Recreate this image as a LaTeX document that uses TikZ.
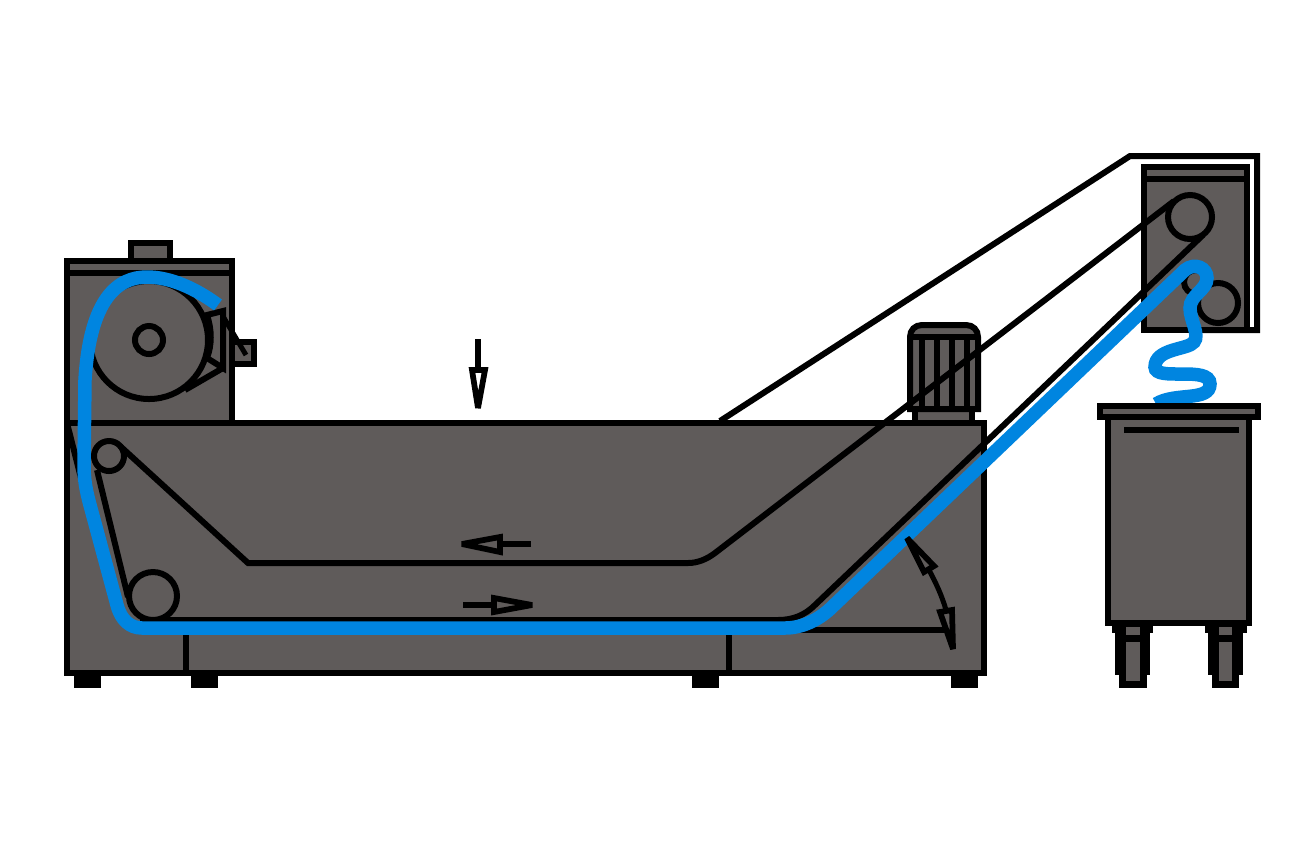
\documentclass[tikz,border=0pt]{standalone}
\definecolor{housing}{HTML}{5F5B5A}
\definecolor{coolant}{HTML}{0085E0}
\tikzset{
  part/.style={draw=black,fill=housing,line width=0.12cm},
  belt/.style={draw=black,line width=0.12cm},
  swarf/.style={draw=coolant,line width=0.27cm},
  tip/.style={draw=black,line width=0.115cm,miter limit=3},
  shaft/.style={draw=black,line width=0.12cm}
}
\begin{document}
\begin{tikzpicture}[x=0.02cm,y=-0.02cm]
    \useasboundingbox (0,0) rectangle (1310,860);

    % feet of the tank
    \fill (74,670) rectangle (101,688);
    \fill (191,670) rectangle (218,688);
    \fill (692,670) rectangle (719,688);
    \fill (951,670) rectangle (978,688);

    % drive box on the left
    \path[part] (131,243) rectangle (170,261);
    \path[part] (67,261) rectangle (232,423);
    \draw[belt] (67,273) -- (232,273);
    \path[part] (232,342) rectangle (254,364);
    \draw[belt,line width=0.1cm] (224,318) -- (246,355);
    \path[part] (207,315) -- (223,311) -- (223,368) -- (207,358) .. controls (212,345) and (212,330) .. cycle;
    \draw[belt] (223,368) -- (185,390);
    \path[part] (149,340) circle (59);
    \draw[belt] (149,340) circle (14);

    % tank
    \path[part] (67,423) rectangle (984,673);
    \draw[belt] (67,423) -- (82,482);
    \draw[belt] (186,630) -- (186,673);
    \draw[belt] (729,630) -- (729,673);

    % motor
    \path[part] (915,405) rectangle (972,423);
    \path[part] (910,409) -- (910,337) .. controls (910,330) and (915,325) .. (922,325) -- (966,325) .. controls (973,325) and (978,330) .. (978,337) -- (978,409) -- cycle;
    \draw[belt] (910,337) -- (978,337);
    \foreach \x in {922,937,952,967}
      \draw[belt] (\x,337) -- (\x,409);

    % head box on the right
    \draw[belt] (720,421) -- (1130,156) -- (1257,156) -- (1257,330) -- (1200,330);
    \path[part] (1144,167) rectangle (1247,330);
    \draw[belt] (1144,179) -- (1247,179);
    \draw[belt] (1196,282) circle (12);
    \draw[belt] (1218,303) circle (20);

    % conveyor belt with its rollers
    \coordinate (rollerA) at (109,456);
    \coordinate (rollerB) at (153,596);
    \coordinate (rollerC) at (1190,217);
    \draw[belt] (rollerA) circle (15);
    \draw[belt] (rollerB) circle (24);
    \draw[belt] (rollerC) circle (22);
    \draw[belt] (120,446) -- (248,563) -- (688,563) .. controls (698,563) and (707,559) .. (715,553) -- (1174,201);
    \draw[belt] (1203,235) -- (815,605) .. controls (805,615) and (793,620) .. (778,620) -- (140,620);
    \draw[belt] (97,470) -- (128,597);

    % angle of the slope, base line under the swarf
    \draw[belt] (800,630) -- (950,630);

    % swarf leaving the machine
    \draw[swarf] (218,305) .. controls (195,288) and (170,277) .. (147,277) .. controls (118,277) and (90,298) .. (85,380) -- (84,465) .. controls (84,480) and (86,490) .. (90,505) -- (117,605) .. controls (121,620) and (130,628) .. (142,628) -- (785,628) .. controls (802,628) and (818,620) .. (830,609) -- (1185,270) .. controls (1195,262) and (1207,268) .. (1207,278) .. controls (1207,290) and (1190,295) .. (1190,308) .. controls (1190,320) and (1200,335) .. (1194,342) .. controls (1188,350) and (1155,348) .. (1155,367) .. controls (1155,382) and (1210,365) .. (1210,384) .. controls (1210,402) and (1175,392) .. (1156,404);

    % tank on the right
    \fill (1115,620) rectangle (1150,675);
    \fill (1119,675) rectangle (1147,688);
    \fill (1112,620) rectangle (1153,633);
    \fill[housing] (1126,627) rectangle (1140,635);
    \fill[housing] (1126,642) rectangle (1140,681);
    \fill (1208,620) rectangle (1243,675);
    \fill (1212,675) rectangle (1239,688);
    \fill (1205,620) rectangle (1247,633);
    \fill[housing] (1219,627) rectangle (1232,635);
    \fill[housing] (1219,642) rectangle (1232,681);
    \path[part] (1108,417) rectangle (1249,623);
    \path[part] (1100,406) rectangle (1258,417);
    \draw[belt] (1124,430) -- (1239,430);

    % arrows
    \draw[shaft] (478,339) -- (478,370);
    \path[tip,fill=white] (472,370) -- (485,370) -- (478,408) -- cycle;
    \draw[shaft] (531,544) -- (500,544);
    \path[tip,fill=housing] (500,537) -- (500,552) -- (462,544) -- cycle;
    \draw[shaft] (463,605) -- (494,605);
    \path[tip,fill=housing] (494,598) -- (494,612) -- (532,605) -- cycle;

    % angle of the slope, its arc and heads
    \draw[shaft,line width=0.1cm] (929,570) .. controls (936,583) and (942,596) .. (946,610);
    \path[tip,fill=housing] (907,538) -- (934,566) -- (924,572) -- cycle;
    \path[tip,fill=housing] (940,612) -- (952,610) -- (953,649) -- cycle;
\end{tikzpicture}
\end{document}
